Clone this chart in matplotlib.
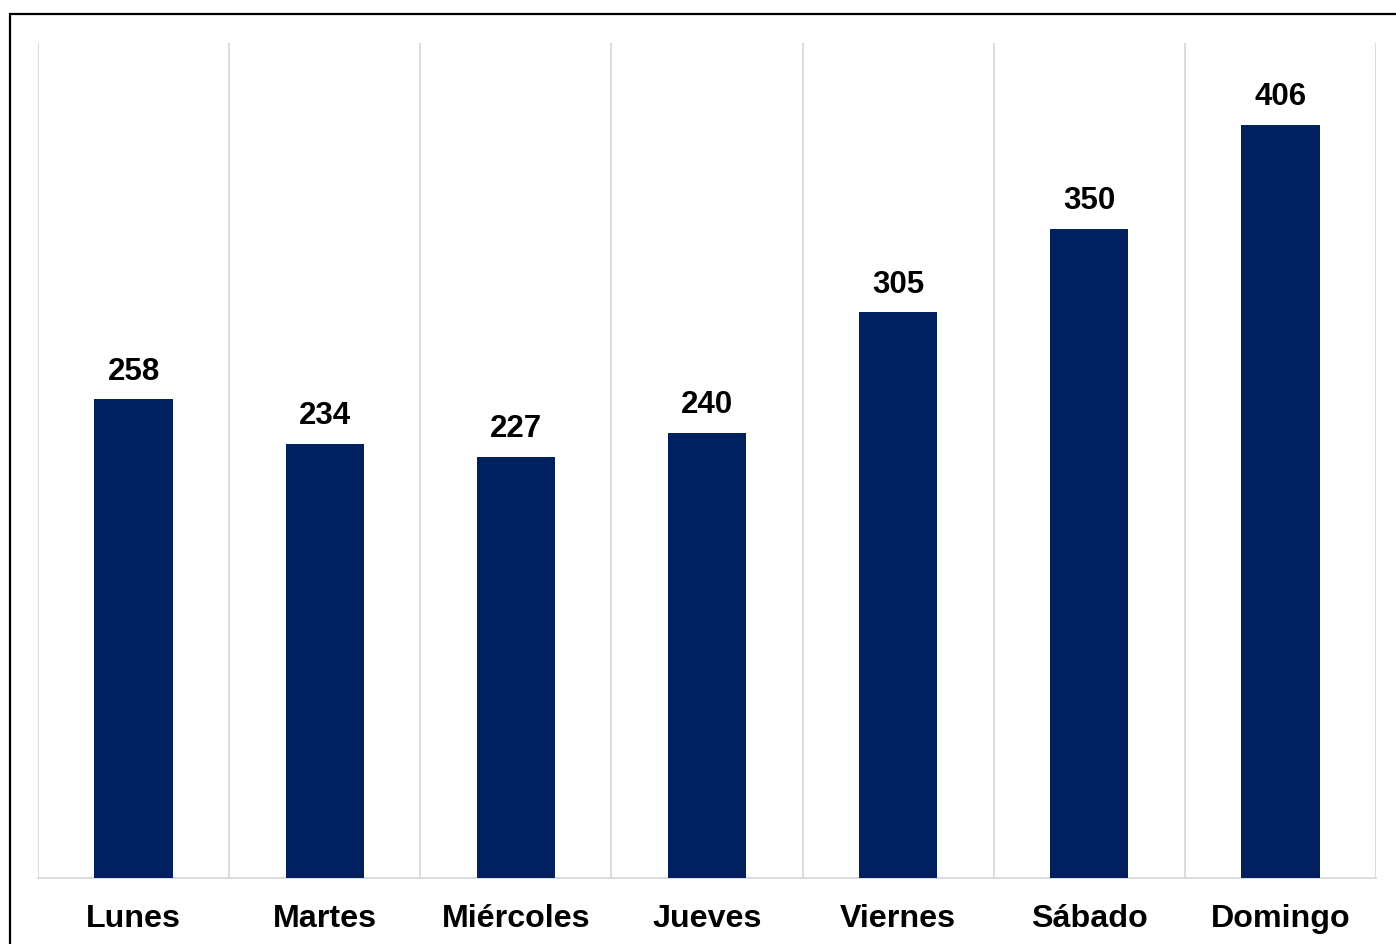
import matplotlib
matplotlib.use("Agg")
import matplotlib.pyplot as plt
from matplotlib.patches import Rectangle

categories = ["Lunes", "Martes", "Miércoles", "Jueves", "Viernes", "Sábado", "Domingo"]
values = [258, 234, 227, 240, 305, 350, 406]

plt.rcParams['font.family'] = ['Liberation Sans', 'DejaVu Sans']

W, H = 1396, 944
fig = plt.figure(figsize=(W / 100, H / 100), dpi=100)
fig.patch.set_facecolor("white")

# outer frame (extends past right/bottom edge)
fig.add_artist(Rectangle((9.5 / W, -0.05), 1.2, 1 - 13.5 / H + 0.05, transform=fig.transFigure,
                         fill=False, edgecolor="black", linewidth=1.6))

left, right, top, bottom = 38, 1376, 43, 878
ax = fig.add_axes([left / W, 1 - bottom / H, (right - left) / W, (bottom - top) / H])

x = list(range(len(categories)))
ax.bar(x, values, width=0.41, color="#002060", zorder=3)
ax.set_xlim(-0.5, len(categories) - 0.5)
ax.set_ylim(0, 450)

for i, v in enumerate(values):
    ax.annotate(str(v), (i, v), xytext=(0, 9), textcoords="offset points",
                ha="center", va="bottom", fontsize=22.5, fontweight="bold", color="black")

for b in [i - 0.5 for i in range(len(categories) + 1)]:
    ax.axvline(b, color="#d9d9d9", linewidth=1.3, zorder=1)

for s in ["top", "right", "left"]:
    ax.spines[s].set_visible(False)
ax.spines["bottom"].set_color("#d9d9d9")
ax.spines["bottom"].set_linewidth(1.3)
ax.set_yticks([])
ax.set_xticks(x)
ax.set_xticklabels(categories, fontsize=23.2, fontweight="bold")
ax.tick_params(axis="x", length=0, pad=19)

fig.savefig("out.png", dpi=100, facecolor="white")
